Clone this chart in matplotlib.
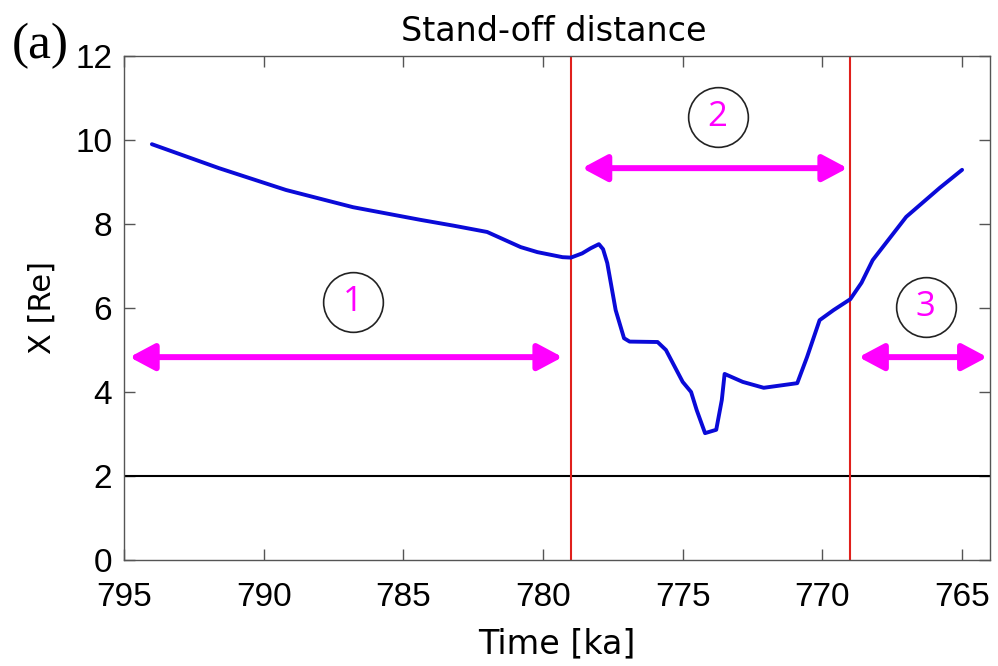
import numpy as np
import matplotlib
matplotlib.use("Agg")
import matplotlib.pyplot as plt

# stand-off distance
time_ka = [794.0, 791.6, 789.2, 786.8, 784.4, 783.2, 782.0, 781.4, 780.8, 780.2,
           779.3, 779.0, 778.6, 778.3, 778.0, 777.85, 777.7, 777.4, 777.1, 776.9,
           775.9, 775.6, 775.0, 774.7, 774.5, 774.2, 773.8, 773.6, 773.5, 772.85,
           772.1, 770.9, 770.55, 770.1, 769.6, 769.0, 768.6, 768.2, 767.0, 765.8,
           765.0]
x_re = [9.9, 9.33, 8.81, 8.40, 8.10, 7.96, 7.81, 7.63, 7.45, 7.33,
        7.21, 7.20, 7.30, 7.42, 7.52, 7.40, 7.07, 5.95, 5.28, 5.20,
        5.19, 5.0, 4.24, 4.0, 3.57, 3.02, 3.1, 3.81, 4.43, 4.24,
        4.1, 4.21, 4.83, 5.71, 5.95, 6.21, 6.60, 7.14, 8.17, 8.86,
        9.29]

boundaries = [779.0, 769.0]
threshold = 2

# phase arrows (start, end, height) and circled labels (x, y, text)
arrows = [(794.8, 779.3, 4.83), (778.6, 769.1, 9.33), (768.7, 764.1, 4.83)]
labels = [(786.8, 6.14, "1"), (773.75, 10.55, "2"), (766.3, 6.02, "3")]

xticks = [795, 790, 785, 780, 775, 770, 765]
yticks = [0, 2, 4, 6, 8, 10, 12]

plt.rcParams["font.family"] = ["Liberation Sans", "DejaVu Sans"]

fig = plt.figure(figsize=(9.98, 6.66), dpi=100)
ax = fig.add_axes([0.1242, 0.1592, 0.8678, 0.7567])

gray = "#555555"
mag = "#ff00ff"

ax.axhline(threshold, color="black", lw=1.5, zorder=2)
for b in boundaries:
    ax.axvline(b, color="#e0201c", lw=1.5, zorder=2)
ax.plot(time_ka, x_re, color="#0a0ad8", lw=2.8, solid_joinstyle="round",
        solid_capstyle="round", zorder=3)

for x0, x1, y in arrows:
    ax.annotate("", xy=(x1, y), xytext=(x0, y),
                arrowprops=dict(arrowstyle="<|-|>,head_length=0.75,head_width=0.4",
                                color=mag, lw=4.3, shrinkA=0, shrinkB=0,
                                mutation_scale=20), zorder=4)

for x, y, t in labels:
    ax.plot(x, y, "o", ms=43, mfc="none", mec="#222222", mew=1.2, zorder=4)
    ax.text(x, y, t, color=mag, fontsize=25, family=["Open Sans", "DejaVu Sans"],
            ha="center", va="center", zorder=5)

ax.set_xlim(795, 764)
ax.set_ylim(0, 12)
ax.set_xticks(xticks)
ax.set_yticks(yticks)
ax.tick_params(direction="in", length=8, width=1, color=gray,
               labelsize=24, top=True, right=True)
ax.tick_params(axis="x", pad=16)
ax.tick_params(axis="y", pad=8.5)
for s in ax.spines.values():
    s.set_color(gray)
    s.set_linewidth(1)

ax.set_xlabel("Time [ka]", fontsize=24, family="DejaVu Sans")
ax.xaxis.set_label_coords(0.5, -0.133)
ax.set_ylabel("X [Re]", fontsize=22, family="DejaVu Sans")
ax.yaxis.set_label_coords(-0.078, 0.5)
ax.set_title("Stand-off distance", fontsize=24, family="DejaVu Sans", x=0.496, pad=11)
fig.text(0.012, 0.912, "(a)", fontsize=37, family=["Liberation Serif", "DejaVu Serif"],
         ha="left", va="baseline")

fig.savefig("out.png", dpi=100)
